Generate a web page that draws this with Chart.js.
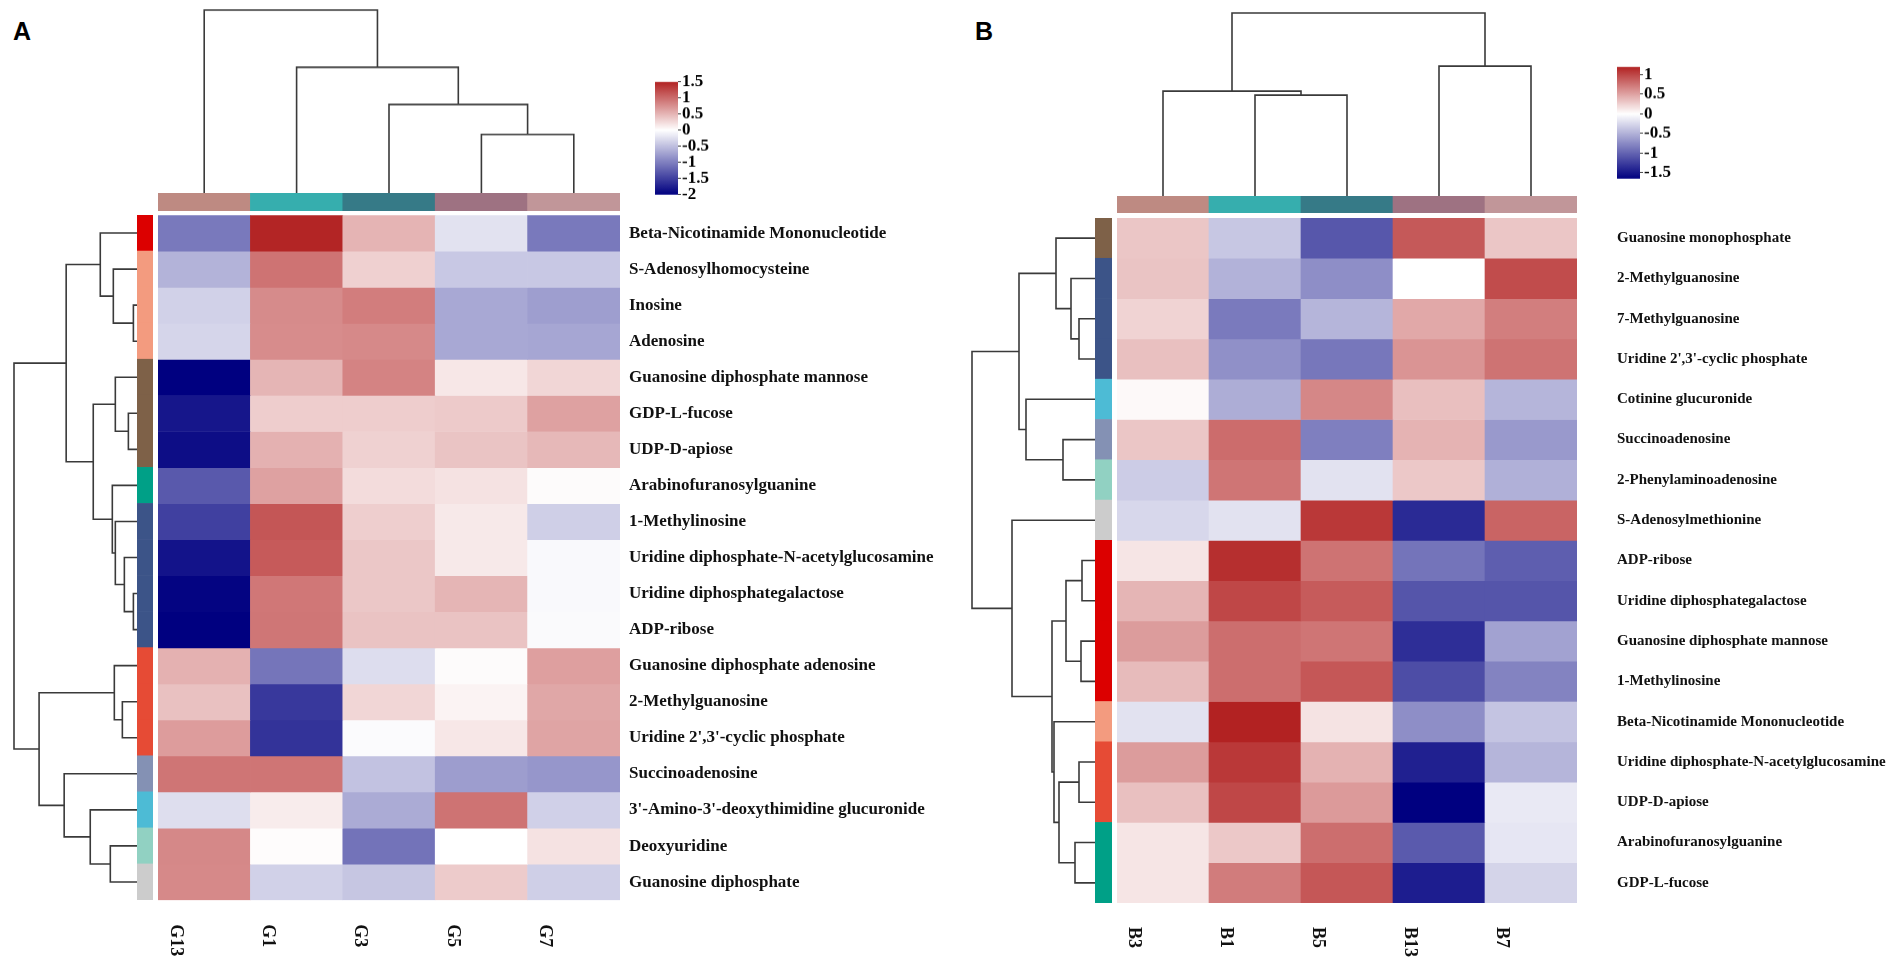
<!DOCTYPE html>
<html><head><meta charset="utf-8">
<script src="https://cdn.jsdelivr.net/npm/chart.js@4.4.1/dist/chart.umd.min.js"></script>
<style>
html,body{margin:0;padding:0;background:#fff;width:1902px;height:970px;overflow:hidden;position:relative;}
.plbl{position:absolute;font:bold 25px "Liberation Sans",Arial,sans-serif;color:#000;line-height:30px;}
.box{position:absolute;}
</style></head><body>
<div class="plbl" style="left:13px;top:16px">A</div>
<div class="plbl" style="left:975px;top:16px">B</div>
<script>
// ---------------- DATA ----------------
const colsA = ['G13','G1','G3','G5','G7'];
const rowsA = ['Beta-Nicotinamide Mononucleotide','S-Adenosylhomocysteine','Inosine','Adenosine',
  'Guanosine diphosphate mannose','GDP-L-fucose','UDP-D-apiose','Arabinofuranosylguanine','1-Methylinosine',
  'Uridine diphosphate-N-acetylglucosamine','Uridine diphosphategalactose','ADP-ribose',
  'Guanosine diphosphate adenosine','2-Methylguanosine',"Uridine 2',3'-cyclic phosphate",'Succinoadenosine',
  "3'-Amino-3'-deoxythimidine glucuronide",'Deoxyuridine','Guanosine diphosphate'];
const valuesA = [
  [-1.05, 1.48, 0.51, -0.23, -1.05],
  [-0.60, 0.95, 0.32, -0.43, -0.43],
  [-0.36, 0.79, 0.88, -0.68, -0.76],
  [-0.33, 0.78, 0.80, -0.68, -0.70],
  [-2.00, 0.50, 0.84, 0.16, 0.28],
  [-1.83, 0.34, 0.34, 0.36, 0.64],
  [-1.90, 0.53, 0.31, 0.40, 0.48],
  [-1.30, 0.64, 0.24, 0.20, 0.03],
  [-1.50, 1.15, 0.33, 0.15, -0.38],
  [-1.85, 1.12, 0.38, 0.15, -0.05],
  [-1.97, 0.92, 0.38, 0.50, -0.05],
  [-2.00, 0.93, 0.41, 0.41, -0.04],
  [0.53, -1.08, -0.27, 0.03, 0.65],
  [0.42, -1.56, 0.28, 0.08, 0.60],
  [0.67, -1.60, -0.03, 0.16, 0.62],
  [0.94, 0.94, -0.48, -0.77, -0.82],
  [-0.26, 0.13, -0.66, 0.95, -0.37],
  [0.81, 0.02, -1.10, 0.00, 0.20],
  [0.80, -0.36, -0.45, 0.35, -0.38]
];
const rowClassA = ['c8','c5','c5','c5','c9','c9','c9','c3','c4','c4','c4','c4','c1','c1','c1','c6','c2','c7','c10'];
// hclust-style merges: [childA, childB, height]; negative = leaf (1-based display order)
const colMergeA = [[-4,-5,59],[-3,1,89],[-2,2,126],[-1,3,183]];
const rowMergeA = [[-3,-4,4],[-2,1,24],[-1,2,37],[-6,-7,9],[-5,4,22],[-11,-12,4],[-10,6,13],[-9,7,22],
  [-8,8,25],[5,9,44],[3,10,71],[-14,-15,15],[-13,12,23],[-18,-19,27],[-17,14,47],[-16,15,73],[13,16,98],[11,17,123]];
const cbTicksA = [1.5, 1, 0.5, 0, -0.5, -1, -1.5, -2];
const rangeA = [-2, 1.5];

const colsB = ['B3','B1','B5','B13','B7'];
const rowsB = ['Guanosine monophosphate','2-Methylguanosine','7-Methylguanosine',"Uridine 2',3'-cyclic phosphate",
  'Cotinine glucuronide','Succinoadenosine','2-Phenylaminoadenosine','S-Adenosylmethionine','ADP-ribose',
  'Uridine diphosphategalactose','Guanosine diphosphate mannose','1-Methylinosine','Beta-Nicotinamide Mononucleotide',
  'Uridine diphosphate-N-acetylglucosamine','UDP-D-apiose','Arabinofuranosylguanine','GDP-L-fucose'];
const valuesB = [
  [0.31, -0.36, -1.09, 0.90, 0.31],
  [0.32, -0.50, -0.73, 0.00, 0.97],
  [0.24, -0.86, -0.48, 0.47, 0.70],
  [0.34, -0.72, -0.88, 0.58, 0.76],
  [0.03, -0.53, 0.65, 0.35, -0.48],
  [0.31, 0.80, -0.83, 0.41, -0.66],
  [-0.33, 0.75, -0.19, 0.30, -0.51],
  [-0.26, -0.19, 1.08, -1.38, 0.84],
  [0.14, 1.13, 0.76, -0.90, -1.04],
  [0.40, 1.00, 0.89, -1.10, -1.10],
  [0.54, 0.79, 0.75, -1.35, -0.60],
  [0.37, 0.79, 0.91, -1.15, -0.80],
  [-0.19, 1.20, 0.15, -0.73, -0.38],
  [0.54, 1.08, 0.42, -1.44, -0.48],
  [0.34, 1.00, 0.55, -1.65, -0.14],
  [0.14, 0.30, 0.79, -1.07, -0.16],
  [0.14, 0.71, 0.91, -1.46, -0.28]
];
const rowClassB = ['c9','c4','c4','c4','c2','c6','c7','c10','c8','c8','c8','c8','c5','c1','c1','c3','c3'];
const colMergeB = [[-2,-3,101],[-1,1,105],[-4,-5,130],[2,3,183]];
const rowMergeB = [[-3,-4,16],[-2,1,24],[-1,2,39],[-6,-7,32],[-5,4,69],[3,5,76],[-9,-10,13],[-11,-12,14],
  [7,8,29],[-14,-15,16],[-16,-17,20],[10,11,36],[-13,12,41],[9,13,43],[-8,14,83],[6,15,123]];
const cbTicksB = [1, 0.5, 0, -0.5, -1, -1.5];
const rangeB = [-1.65, 1.2];

// ---------------- STYLE ----------------
const classColors = {c1:'#E64B35',c2:'#4DBBD5',c3:'#00A087',c4:'#3C5488',c5:'#F39B7F',c6:'#8491B4',c7:'#91D1C2',c8:'#DC0000',c9:'#7E6148',c10:'#CCCCCC'};
const sampleColors = ['#BE8A82','#36AEAE','#367A87','#9E7282','#C19699'];
const LINE = '#3a3a3a';
const SERIF = '"Liberation Serif","Times New Roman",serif';

function makeColor(vmin, vmax){
  const lo=[0,0,128], mid=[255,255,255], hi=[178,34,34];
  return v => {
    let t, b;
    if (v >= 0){ t = Math.min(v / vmax, 1); b = hi; } else { t = Math.min(v / vmin, 1); b = lo; }
    const c = mid.map((x,k)=>Math.round(x + (b[k]-x)*t));
    return 'rgb(' + c.join(',') + ')';
  };
}

// place chart so its chartArea matches the wanted box
function place(area, config){
  const div = document.createElement('div'); div.className='box';
  div.style.left=area.x+'px'; div.style.top=area.y+'px'; div.style.width=area.w+'px'; div.style.height=area.h+'px';
  document.body.appendChild(div);
  const cv = document.createElement('canvas'); div.appendChild(cv);
  config.options = config.options || {};
  Object.assign(config.options, {responsive:true, maintainAspectRatio:false, animation:false, devicePixelRatio: 1});
  config.options.plugins = Object.assign({legend:{display:false}, tooltip:{enabled:false}}, config.options.plugins||{});
  const chart = new Chart(cv, config);
  for (let it=0; it<3; it++){
    const ca = chart.chartArea;
    const ml = ca.left, mt = ca.top, mr = chart.width - ca.right, mb = chart.height - ca.bottom;
    div.style.left=(area.x-ml)+'px'; div.style.top=(area.y-mt)+'px';
    div.style.width=(area.w+ml+mr)+'px'; div.style.height=(area.h+mt+mb)+'px';
    chart.resize();
  }
  return chart;
}

function dendroSets(merges, orient){
  const pos=[], ht=[];
  const P = k => k<0 ? (-k-1)+0.5 : pos[k-1];
  const H = k => k<0 ? 0 : ht[k-1];
  return merges.map(([a,b,h],m)=>{
    const pa=P(a), pb=P(b), ha=H(a), hb=H(b);
    pos[m]=(pa+pb)/2; ht[m]=h;
    const pts=[[pa,ha],[pa,h],[pb,h],[pb,hb]];
    return {data: pts.map(([p,q]) => orient==='top' ? {x:p,y:q} : {x:q,y:p}),
      showLine:true, borderColor:LINE, borderWidth:1.6, pointRadius:0, tension:0, clip:false, fill:false};
  });
}

function dendroTop(area, merges, n){
  const root = Math.max(...merges.map(m=>m[2]));
  return place(area, {type:'scatter', data:{datasets:dendroSets(merges,'top')},
    options:{layout:{padding:4}, scales:{
      x:{type:'linear', min:0, max:n, display:false},
      y:{type:'linear', min:0, max:root, display:false}}}});
}
function dendroLeft(area, merges, n){
  const root = Math.max(...merges.map(m=>m[2]));
  return place(area, {type:'scatter', data:{datasets:dendroSets(merges,'left')},
    options:{layout:{padding:4}, scales:{
      x:{type:'linear', min:0, max:root, reverse:true, display:false},
      y:{type:'linear', min:0, max:n, reverse:true, display:false}}}});
}

function colAnnot(area, cols){
  return place(area, {type:'bar', data:{labels:cols, datasets:[{data:cols.map(()=>1),
    backgroundColor: cols.map((c,i)=>sampleColors[i]), borderWidth:0, barPercentage:1, categoryPercentage:1}]},
    options:{scales:{x:{display:false}, y:{display:false, min:0, max:1}}}});
}
function rowAnnot(area, rows, classes){
  return place(area, {type:'bar', data:{labels:rows, datasets:[{data:rows.map(()=>1),
    backgroundColor: classes.map(c=>classColors[c]), borderWidth:0, barPercentage:1, categoryPercentage:1}]},
    options:{indexAxis:'y', scales:{x:{display:false, min:0, max:1}, y:{display:false}}}});
}

const xLabelPlugin = {
  id:'xlab',
  afterDraw(chart, args, opts){
    const ctx = chart.ctx, xs = chart.scales.x, bottom = chart.chartArea.bottom;
    ctx.save(); ctx.font = opts.font; ctx.fillStyle = '#111'; ctx.textBaseline='middle'; ctx.textAlign='left';
    chart.data.labels.forEach((lab,i)=>{
      ctx.save(); ctx.translate(xs.getPixelForValue(i) + (opts.dx||0), bottom + opts.gap); ctx.rotate(Math.PI/2);
      ctx.fillText(lab, 0, 0); ctx.restore();
    });
    ctx.restore();
  }
};

function heatmap(area, cols, rows, vals, colorFn, o){
  const datasets = rows.map((r,i)=>({label:r, data: cols.map(()=>[i, i+1]),
    backgroundColor: vals[i].map(colorFn), borderWidth:0, grouped:false, barPercentage:1, categoryPercentage:1}));
  return place(area, {type:'bar', data:{labels:cols, datasets},
    options:{layout:{padding:{bottom:70}},
      plugins:{xlab:{font:o.xFont, gap:o.xGap, dx:o.xDx}},
      scales:{
        x:{display:false, offset:true},
        y:{type:'linear', min:0, max:rows.length, reverse:true, position:'right',
           grid:{display:false, drawTicks:false}, border:{display:false},
           afterBuildTicks: s => { s.ticks = rows.map((_,i)=>({value:i+0.5})); },
           afterFit: s => { s.width = o.axisW; },
           ticks:{autoSkip:false, padding:o.pad, color:'#111', font:o.font, callback:(v)=>rows[Math.floor(v)]}}}},
    plugins:[xLabelPlugin]});
}

function colorbar(area, range, ticks, colorFn){
  const [vmin, vmax] = range;
  return place(area, {type:'bar', data:{labels:['z'], datasets:[{data:[[vmin, vmax]], borderWidth:0,
      barPercentage:1, categoryPercentage:1,
      backgroundColor: (c)=>{
        const ch=c.chart, ys=ch.scales.y; if(!ch.chartArea || !ys) return '#fff';
        const y0=ys.getPixelForValue(vmax), y1=ys.getPixelForValue(vmin);
        const g=ch.ctx.createLinearGradient(0,y0,0,y1);
        const N=60; for(let k=0;k<=N;k++){ const v=vmax-(vmax-vmin)*k/N; g.addColorStop(k/N, colorFn(v)); }
        g.addColorStop(vmax/(vmax-vmin), colorFn(0));
        return g;
      }}]},
    options:{scales:{x:{display:false},
      y:{min:vmin, max:vmax, position:'right',
         afterBuildTicks: s => { s.ticks = ticks.map(v=>({value:v})); },
         afterFit: s => { s.width = 48; },
         grid:{display:true, drawOnChartArea:false, drawTicks:true, tickLength:3, color:'#444', lineWidth:1},
         border:{display:false},
         ticks:{autoSkip:false, padding:1, color:'#000', font:{family:SERIF, weight:'bold', size:17, lineHeight:0.9},
                callback:(v)=>String(v)}}}}});
}

// ---------------- PANEL A ----------------
const colorA = makeColor(rangeA[0], rangeA[1]);
dendroTop({x:158, y:10.3, w:462, h:182.7}, colMergeA, colsA.length);
dendroLeft({x:13.6, y:215, w:123.4, h:685}, rowMergeA, rowsA.length);
colAnnot({x:158, y:193, w:462, h:18}, colsA);
rowAnnot({x:137, y:215, w:16, h:685}, rowsA, rowClassA);
heatmap({x:158, y:215, w:462, h:685}, colsA, rowsA, valuesA, colorA,
  {pad:9, axisW:330, font:{family:SERIF, weight:'bold', size:17},
   xFont:'bold 18px ' + SERIF, xGap:24, xDx:-29});
colorbar({x:655, y:82, w:23, h:112}, rangeA, cbTicksA, colorA);

// ---------------- PANEL B ----------------
const colorB = makeColor(rangeB[0], rangeB[1]);
dendroTop({x:1117, y:12.7, w:460, h:183.3}, colMergeB, colsB.length);
dendroLeft({x:972, y:218, w:123, h:685}, rowMergeB, rowsB.length);
colAnnot({x:1117, y:196, w:460, h:17}, colsB);
rowAnnot({x:1095, y:218, w:17, h:685}, rowsB, rowClassB);
heatmap({x:1117, y:218, w:460, h:685}, colsB, rowsB, valuesB, colorB,
  {pad:40, axisW:320, font:{family:SERIF, weight:'bold', size:15},
   xFont:'bold 18px ' + SERIF, xGap:24, xDx:-29});
colorbar({x:1617, y:67, w:23, h:111}, rangeB, cbTicksB, colorB);
</script>
</body></html>
